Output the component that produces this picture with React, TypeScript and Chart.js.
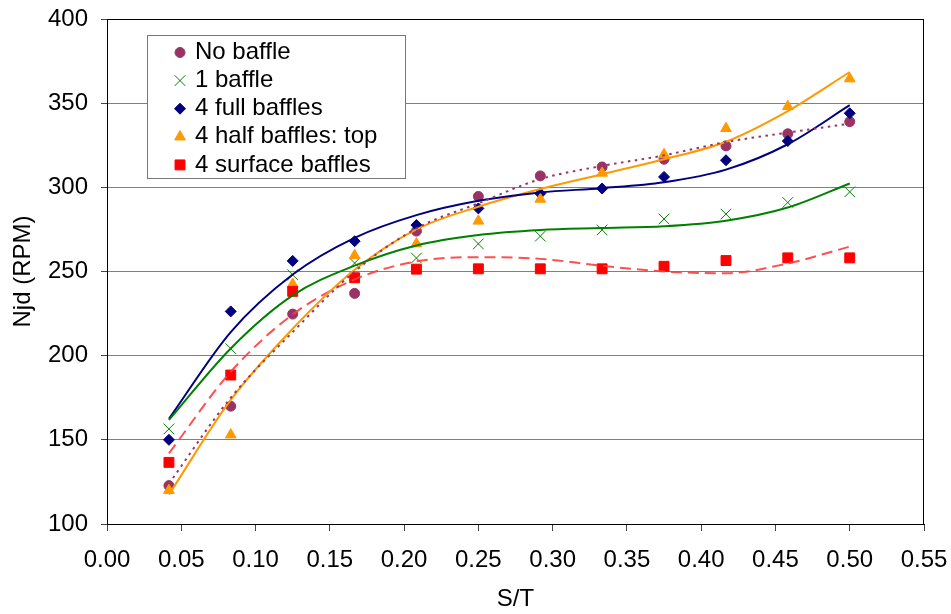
import React, { useEffect, useRef } from 'react';
import { Chart, registerables } from 'chart.js';
import { drawPoint } from 'chart.js/helpers';

Chart.register(...registerables);

// ---- data ----
const xValues = [0.0417, 0.0833, 0.125, 0.1667, 0.2083, 0.25, 0.2917, 0.3333, 0.375, 0.4167, 0.4583, 0.5];

const seriesNames = ['No baffle', '1 baffle', '4 full baffles', '4 half baffles: top', '4 surface baffles'];

const noBaffle = [122.8, 170, 224.7, 237, 274, 294.6, 306.8, 312.1, 316.7, 324.6, 331.8, 339];
const oneBaffle = [156.5, 204.2, 248, 255, 258, 266.4, 271, 274.7, 281.2, 284.1, 291, 297.3];
const fullBaffles = [150, 226.3, 256.3, 268, 277.6, 287.5, 296.3, 299.3, 306.2, 316.1, 327.5, 344];
const halfBaffles = [120, 153, 242.5, 259.5, 266.5, 280, 293, 308.5, 319.5, 335, 348, 364.5];
const surfaceBaffles = [136.6, 188.5, 238.2, 246.3, 251.4, 251.6, 251.6, 251.6, 253.1, 256.5, 258.1, 258.1];

// trend lines at the same S/T positions
const noBaffleTrend = [124, 175, 214, 250, 275.6, 290.5, 304.9, 312.7, 319, 326.9, 332.5, 337.8];
const oneBaffleTrend = [161.8, 204.3, 235.8, 253.5, 265.5, 271.7, 274.7, 275.8, 276.9, 280.2, 288, 302.3];
const fullBafflesTrend = [162.5, 214, 248.2, 270, 283.5, 292, 297, 299.5, 303, 310.5, 325.6, 348.8];
const halfBafflesTrend = [117.5, 173.7, 216, 251, 275, 288.5, 299, 307.8, 316.7, 327.1, 345.3, 368.5];
const surfaceBafflesTrend = [142, 190.4, 224.5, 245.3, 256, 258.5, 257.5, 253.4, 250, 249, 254.8, 264.8];

const xTickValues = [0, 0.05, 0.1, 0.15, 0.2, 0.25, 0.3, 0.35, 0.4, 0.45, 0.5, 0.55];
const xTickLabels = ['0.00', '0.05', '0.10', '0.15', '0.20', '0.25', '0.30', '0.35', '0.40', '0.45', '0.50', '0.55'];
const yTickValues = [100, 150, 200, 250, 300, 350, 400];
const yTickLabels = ['100', '150', '200', '250', '300', '350', '400'];

const xTitle = 'S/T';
const yTitle = 'Njd (RPM)';

// ---- styles ----
const FONT = "'Liberation Sans', Arial, Helvetica, sans-serif";

const markerStyles = [
  { color: '#993366', pointStyle: 'circle', radius: 5, order: 5 },
  { color: '#008000', pointStyle: 'crossRot', radius: 7.5, order: 4 },
  { color: '#000080', pointStyle: 'rectRot', radius: 5.5, order: 3 },
  { color: '#FF9900', pointStyle: 'triangle', radius: 6.2, order: 2 },
  { color: '#FF0000', pointStyle: 'rect', radius: 7, order: 1 },
];

const lineStyles = [
  { color: '#993366', dash: [2.5, 4.5], width: 2 },
  { color: '#008000', dash: [], width: 2 },
  { color: '#000080', dash: [], width: 2 },
  { color: '#FF9900', dash: [], width: 2 },
  { color: 'rgba(255,60,60,0.9)', dash: [11, 6], width: 2 },
];

const seriesValues = [noBaffle, oneBaffle, fullBaffles, halfBaffles, surfaceBaffles];
const trendValues = [noBaffleTrend, oneBaffleTrend, fullBafflesTrend, halfBafflesTrend, surfaceBafflesTrend];

const frameAndLegend = {
  id: 'frameAndLegend',
  afterDraw(chart: any) {
    const { ctx, chartArea } = chart;
    ctx.save();
    // plot-area frame
    ctx.strokeStyle = '#000';
    ctx.lineWidth = 1;
    ctx.strokeRect(
      Math.round(chartArea.left) + 0.5,
      Math.round(chartArea.top) + 0.5,
      Math.round(chartArea.right - chartArea.left) - 1,
      Math.round(chartArea.bottom - chartArea.top)
    );
    // legend box
    ctx.fillStyle = '#fff';
    ctx.fillRect(148, 36, 257, 143);
    ctx.strokeStyle = '#777';
    ctx.strokeRect(147.5, 35.5, 258, 143);
    ctx.font = `24px ${FONT}`;
    ctx.textBaseline = 'middle';
    ctx.textAlign = 'left';
    seriesNames.forEach((name, i) => {
      const y = 52.5 + i * 28.1;
      const s = markerStyles[i];
      ctx.fillStyle = s.color;
      ctx.strokeStyle = s.color;
      ctx.lineWidth = 1;
      drawPoint(ctx, { pointStyle: s.pointStyle, radius: s.radius, rotation: 0, borderWidth: 1 } as any, 180, y);
      ctx.fillStyle = '#000';
      ctx.fillText(name, 195, y);
    });
    ctx.restore();
  },
};

export default function App() {
  const canvasRef = useRef<HTMLCanvasElement | null>(null);

  useEffect(() => {
    document.body.style.margin = '0';
    const canvas = canvasRef.current;
    if (!canvas) return;

    const markerSets = seriesValues.map((vals, i) => ({
      type: 'scatter' as const,
      label: seriesNames[i],
      data: xValues.map((x, k) => ({ x, y: vals[k] })),
      showLine: false,
      pointStyle: markerStyles[i].pointStyle,
      pointRadius: markerStyles[i].radius,
      pointHoverRadius: markerStyles[i].radius,
      pointBackgroundColor: markerStyles[i].color,
      pointBorderColor: markerStyles[i].color,
      pointBorderWidth: 1,
      order: markerStyles[i].order,
    }));

    const trendSets = trendValues.map((vals, i) => ({
      type: 'scatter' as const,
      label: seriesNames[i] + ' trend',
      data: xValues.map((x, k) => ({ x, y: vals[k] })),
      showLine: true,
      cubicInterpolationMode: 'monotone',
      pointRadius: 0,
      pointHoverRadius: 0,
      borderColor: lineStyles[i].color,
      borderWidth: lineStyles[i].width,
      borderDash: lineStyles[i].dash,
      fill: false,
      order: 0,
    }));

    const chart = new Chart(canvas, {
      type: 'scatter',
      data: { datasets: [...trendSets, ...markerSets] as any },
      plugins: [frameAndLegend],
      options: {
        animation: false,
        responsive: false,
        maintainAspectRatio: false,
        devicePixelRatio: 1,
        layout: { padding: { top: 19, right: 27, left: 0, bottom: 0 } },
        plugins: {
          legend: { display: false },
          tooltip: { enabled: false },
        },
        scales: {
          x: {
            type: 'linear',
            min: 0,
            max: 0.55,
            afterBuildTicks: (scale: any) => {
              scale.ticks = xTickValues.map((v) => ({ value: v }));
            },
            afterFit: (scale: any) => {
              scale.height = 90;
              scale.paddingLeft = 0;
              scale.paddingRight = 0;
            },
            ticks: {
              autoSkip: false,
              maxRotation: 0,
              padding: 15,
              color: '#000',
              font: { family: FONT, size: 24 },
              callback: (_v: any, idx: number) => xTickLabels[idx],
            },
            grid: {
              drawOnChartArea: false,
              drawTicks: true,
              tickLength: 7,
              tickColor: '#444',
            },
            border: { display: true, color: '#000', width: 1 },
            title: {
              display: true,
              text: xTitle,
              color: '#000',
              font: { family: FONT, size: 24 },
              padding: { top: 0, bottom: 0 },
            },
          },
          y: {
            type: 'linear',
            min: 100,
            max: 400,
            afterBuildTicks: (scale: any) => {
              scale.ticks = yTickValues.map((v) => ({ value: v }));
            },
            afterFit: (scale: any) => {
              scale.width = 107;
              scale.paddingTop = 0;
              scale.paddingBottom = 0;
            },
            ticks: {
              autoSkip: false,
              padding: 13,
              color: '#000',
              font: { family: FONT, size: 24 },
              callback: (_v: any, idx: number) => yTickLabels[idx],
            },
            grid: {
              color: '#808080',
              lineWidth: 1,
              drawTicks: true,
              tickLength: 6,
              tickColor: '#444',
            },
            border: { display: true, color: '#000', width: 1 },
            title: {
              display: true,
              text: yTitle,
              color: '#000',
              font: { family: FONT, size: 24 },
              padding: { top: 9, bottom: 0 },
            },
          },
        },
      },
    });

    return () => {
      chart.destroy();
    };
  }, []);

  return (
    <div style={{ position: 'absolute', left: 0, top: 0, width: 951, height: 614, background: '#fff' }}>
      <canvas ref={canvasRef} width={951} height={614} style={{ width: 951, height: 614, display: 'block' }} />
    </div>
  );
}
